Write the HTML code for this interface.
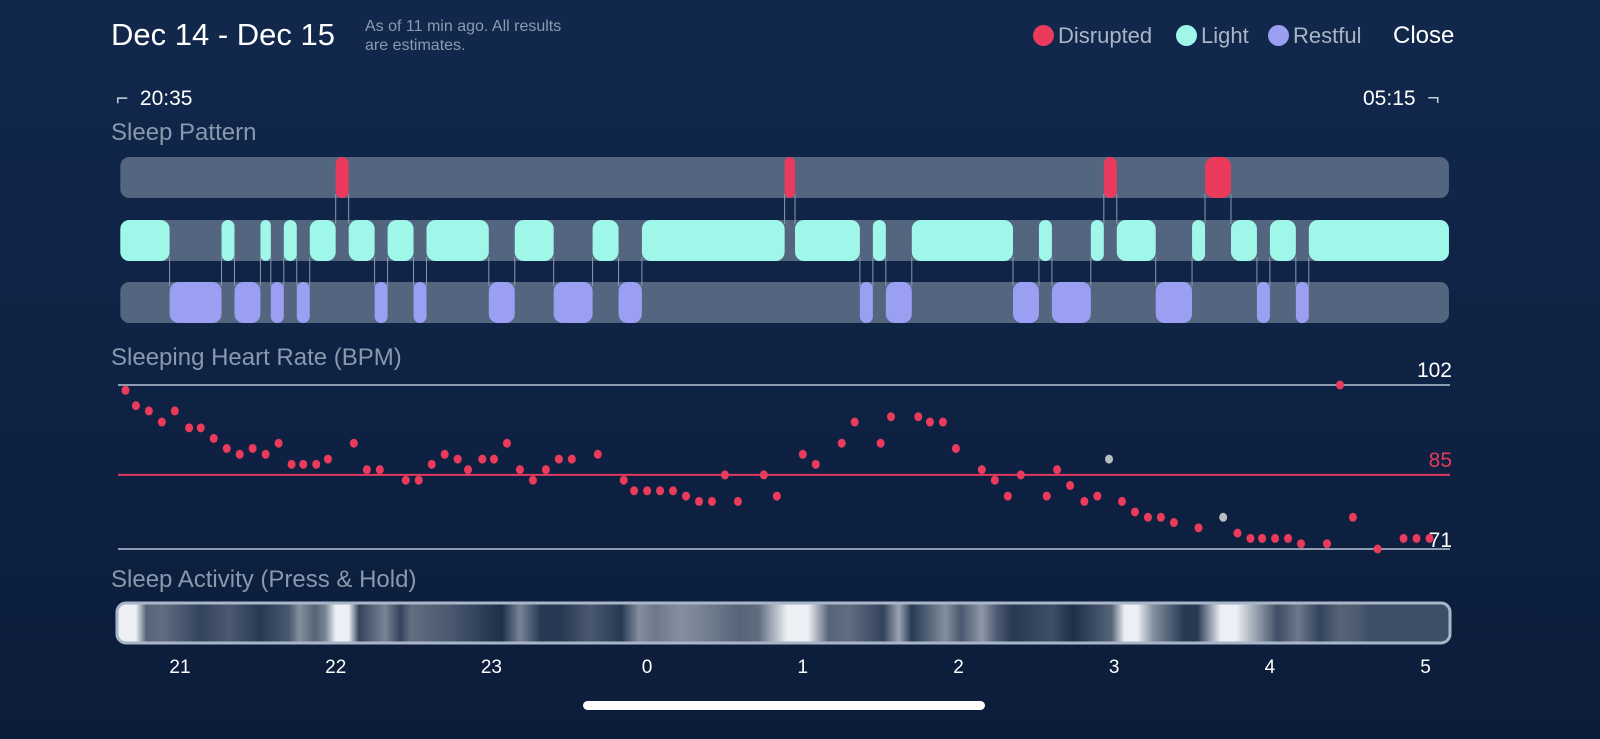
<!DOCTYPE html>
<html><head><meta charset="utf-8"><style>
html,body{margin:0;padding:0;}
body{width:1600px;height:739px;overflow:hidden;background:linear-gradient(#11284c,#0e2142 60%,#0c1d3a);font-family:"Liberation Sans",sans-serif;position:relative;}
.t{position:absolute;white-space:nowrap;}
</style></head><body>
<div class="t" style="left:111px;top:17px;font-size:31px;color:#fff;">Dec 14 - Dec 15</div>
<div class="t" style="left:365px;top:17px;font-size:16px;line-height:19px;color:#8c9ab0;">As of 11 min ago. All results<br>are estimates.</div>
<div class="t" style="left:1033px;top:23px;font-size:22px;color:#a9b4c6;"><span style="display:inline-block;width:21px;height:21px;border-radius:50%;background:#ea3b5c;vertical-align:-3px;margin-right:4px"></span>Disrupted</div>
<div class="t" style="left:1176px;top:23px;font-size:22px;color:#a9b4c6;"><span style="display:inline-block;width:21px;height:21px;border-radius:50%;background:#9ff7ea;vertical-align:-3px;margin-right:4px"></span>Light</div>
<div class="t" style="left:1268px;top:23px;font-size:22px;color:#a9b4c6;"><span style="display:inline-block;width:21px;height:21px;border-radius:50%;background:#9a9ff2;vertical-align:-3px;margin-right:4px"></span>Restful</div>
<div class="t" style="left:1393px;top:22px;font-size:24px;color:#fff;">Close</div>
<div class="t" style="left:116px;top:87px;font-size:21px;color:#fff;"><span style="color:#c7cfdb">⌐</span>&nbsp; 20:35</div>
<div class="t" style="left:1363px;top:87px;font-size:21px;color:#fff;">05:15 &nbsp;<span style="color:#c7cfdb">¬</span></div>
<div class="t" style="left:111px;top:119px;font-size:24px;color:#8a98ad;">Sleep Pattern</div>
<div class="t" style="left:111px;top:344px;font-size:24px;color:#8a98ad;">Sleeping Heart Rate (BPM)</div>
<div class="t" style="left:111px;top:566px;font-size:24px;color:#8a98ad;">Sleep Activity (Press &amp; Hold)</div>
<div style="position:absolute;left:583px;top:701px;width:402px;height:9px;border-radius:5px;background:#fff;"></div>
<svg id="chart" width="1600" height="739" style="position:absolute;left:0;top:0" xmlns="http://www.w3.org/2000/svg"></svg>
<script>
// sleep stage boundaries (minutes after 21:00) and stages between them
const stageBounds=[-23,-4,16,21,31,35,40,45,50,60,65,75,80,90,95,119,129,144,159,169,178,233,237,262,267,272,282,321,331,336,351,356,361,376,390,395,405,415,420,430,435,489];
const stages=['L','R','L','R','L','R','L','R','L','D','L','R','L','R','L','R','L','R','L','R','L','D','L','R','L','R','L','R','L','R','L','D','L','R','L','D','L','R','L','R','L'];
// heart rate samples: minutes after 21:00 and bpm
const hrMinutes=[-21,-17,-12,-7,-2,3.5,8,13,18,23,28,33,38,43,47.5,52.5,57,67,72,77,87,92,97,102,107,111,116.5,121,126,131,136,141,146,151,161,171,175,180,185,190,195,200,205,210,215,225,230,240,245,255,260,270,274,284.5,289,294,299,309,314,319,324,334,338,343,348.5,353.5,363,368,373,378,383,392.5,407.5,412.5,417,422,427,432,442,447,452,461.5,471.5,476.5,481.5];
const hrBpm=[101,98.1,97.1,95,97.1,93.9,93.9,91.9,90,88.9,90,88.9,91,87,87,87,88,91,86,86,84,84,87,88.9,88,86,88,88,91,86,84,86,88,88,88.9,84,82,82,82,82,81,80,80,85,80,85,81,88.9,87,91,95,91,96,96,95,95,90,86,84,81,85,81,86,83,80,81,80,78,77,77,76,75,74,73,73,73,73,72,72,102,77,71,73,73,73];
const grayMinutes=[358,402];
const grayBpm=[88,77];
const refValues=[102,85,71];
const hourTicks=[21,22,23,0,1,2,3,4,5];
// activity intensity samples (minutes after 21:00, level 0..1)
const actMinutes=[-23,-17,-13,-7,8,19,31,42,46,52,56,60,65,69,79,85,89,104,124,131,139,147,158,170,177,183,193,200,216,223,234,242,250,258,271,277,282,295,301,309,315,321,336,344,359,364,369,375,387,392,401,407,423,431,439,447,455,458,489];
const actLevel=[0.95,0.95,0.3,0.35,0.15,0.25,0.1,0.25,0.5,0.3,0.45,0.95,0.95,0.15,0.45,0.15,0.35,0.25,0.05,0.45,0.1,0.1,0.25,0.1,0.5,0.4,0.5,0.45,0.3,0.35,0.95,0.95,0.3,0.35,0.15,0.6,0.1,0.5,0.25,0.55,0.25,0.1,0.2,0.05,0.3,0.95,0.95,0.5,0.1,0.1,0.95,0.95,0.2,0.4,0.15,0.3,0.25,0.2,0.2];

const NS='http://www.w3.org/2000/svg';
const svg=document.getElementById('chart');
const xOf=m=>180+m*155.7/60;
const yOf=b=>385+(102-b)*(164/31);
function mk(tag,attrs,parent){const e=document.createElementNS(NS,tag);for(const k in attrs)e.setAttribute(k,attrs[k]);(parent||svg).appendChild(e);return e;}

// row tracks
const rowY={D:157,L:220,R:282};const rowH=41;
const trackNames={D:'disrupted-track',L:'light-track',R:'restful-track'};
for(const k of ['D','L','R']){
  const tr=mk('rect',{x:xOf(stageBounds[0]),y:rowY[k],width:xOf(stageBounds[stageBounds.length-1])-xOf(stageBounds[0]),height:rowH,rx:9,fill:'#546580'});
  
  
}
const colors={D:'#ea3b5c',L:'#9ff7ea',R:'#9a9ff2'};
// connectors
for(let i=1;i<stages.length;i++){
  const a=stages[i-1],b=stages[i];const x=xOf(stageBounds[i]);
  const ya=rowY[a],yb=rowY[b];
  const top=Math.min(ya,yb)+rowH,bot=Math.max(ya,yb);
  const ln=mk('line',{x1:x,x2:x,y1:top-4,y2:bot+4,stroke:'#8d9ab0','stroke-width':1});
  
  
}
for(let i=0;i<stages.length;i++){
  const s=stages[i];const x0=xOf(stageBounds[i]),x1=xOf(stageBounds[i+1]);
  const r=mk('rect',{x:x0,y:rowY[s],width:Math.max(x1-x0,4),height:rowH,rx:Math.min(9,(x1-x0)/2),fill:colors[s]});
  
  
}

// heart rate reference lines
const refColors=['#8e9bb0','#e23a5c','#8e9bb0'];
const refText=['#fff','#e23a5c','#fff'];
refValues.forEach((v,i)=>{
  const l=mk('line',{x1:118,x2:1450,y1:yOf(v),y2:yOf(v),stroke:refColors[i],'stroke-width':2});
  
  
  const t=mk('text',{x:1452,y:yOf(v)-8+(i==2?6:0),'text-anchor':'end','font-size':21,fill:refText[i],'font-family':'Liberation Sans, sans-serif'});
  t.textContent=v;
  
  
});
hrMinutes.forEach((m,i)=>{
  const c=mk('ellipse',{cx:xOf(m),cy:yOf(hrBpm[i]),rx:4,ry:4.5,fill:'#ea3b5c'});
  
  
});
grayMinutes.forEach((m,i)=>{
  const c=mk('ellipse',{cx:xOf(m),cy:yOf(grayBpm[i]),rx:4,ry:4.5,fill:'#b9bcc2'});
  
  
});

// activity bar
const defs=mk('defs',{});
const g=mk('linearGradient',{id:'act',x1:0,x2:1,y1:0,y2:0},defs);
const ax0=117,ax1=1450;
function lerp(a,b,t){return Math.round(a+(b-a)*t);}
actMinutes.forEach((m,i)=>{
  const off=Math.min(1,Math.max(0,(xOf(m)-ax0)/(ax1-ax0)));
  const t=actLevel[i];
  mk('stop',{offset:off,'stop-color':`rgb(${lerp(16,248,t)},${lerp(35,250,t)},${lerp(64,252,t)})`},g);
});
const ab=mk('rect',{x:ax0,y:603,width:ax1-ax0,height:40,rx:9,fill:'url(#act)',stroke:'#a9b6c9','stroke-width':3});



hourTicks.forEach(h=>{
  const m=(h>=21?h-21:h+3)*60;
  const t=mk('text',{x:xOf(m),y:673,'text-anchor':'middle','font-size':19,fill:'#fff','font-family':'Liberation Sans, sans-serif'});
  t.textContent=h;
  
  
});
</script>
</body></html>
